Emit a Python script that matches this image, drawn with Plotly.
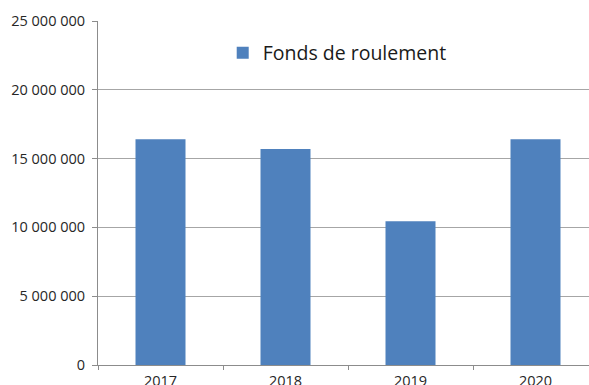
import plotly.graph_objects as go

years = ["2017", "2018", "2019", "2020"]
values = [16400000, 15700000, 10450000, 16400000]
series_name = "Fonds de roulement"
y_ticks = [0, 5000000, 10000000, 15000000, 20000000, 25000000]

fig = go.Figure()
fig.add_trace(go.Bar(
    x=years, y=values, name=series_name,
    marker=dict(color="#4f81bd", line=dict(width=0)),
    width=0.4, showlegend=True,
))

fig.update_layout(
    width=589, height=385,
    margin=dict(l=98, r=0, t=21, b=20, autoexpand=False),
    paper_bgcolor="white", plot_bgcolor="white",
    separators=", ",
    font=dict(family="Open Sans, Liberation Sans, sans-serif", color="#262626"),
    showlegend=True,
    legend=dict(
        x=0.254, y=0.907, xanchor="left", yanchor="middle",
        font=dict(size=19.5, color="#1a1a1a"),
        bgcolor="rgba(0,0,0,0)", itemwidth=30,
    ),
    xaxis=dict(
        type="category", range=[-0.5, 3.428], automargin=False,
        showline=True, linecolor="#8c8c8c", linewidth=1,
        ticks="outside", tickson="boundaries", ticklen=4, tickcolor="#8c8c8c",
        tickfont=dict(size=14.5, color="#262626"),
        ticklabelstandoff=3,
        showgrid=False,
    ),
    yaxis=dict(
        range=[0, 25000000], tickvals=y_ticks, tickformat=",d", automargin=False,
        showline=True, linecolor="#8c8c8c", linewidth=1,
        ticks="outside", ticklen=5, tickcolor="#8c8c8c",
        showgrid=True, gridcolor="#a6a6a6", gridwidth=1,
        tickfont=dict(size=14.5, color="#262626"),
        ticklabelstandoff=4,
        zeroline=False,
    ),
)

fig.write_html("out.html")
